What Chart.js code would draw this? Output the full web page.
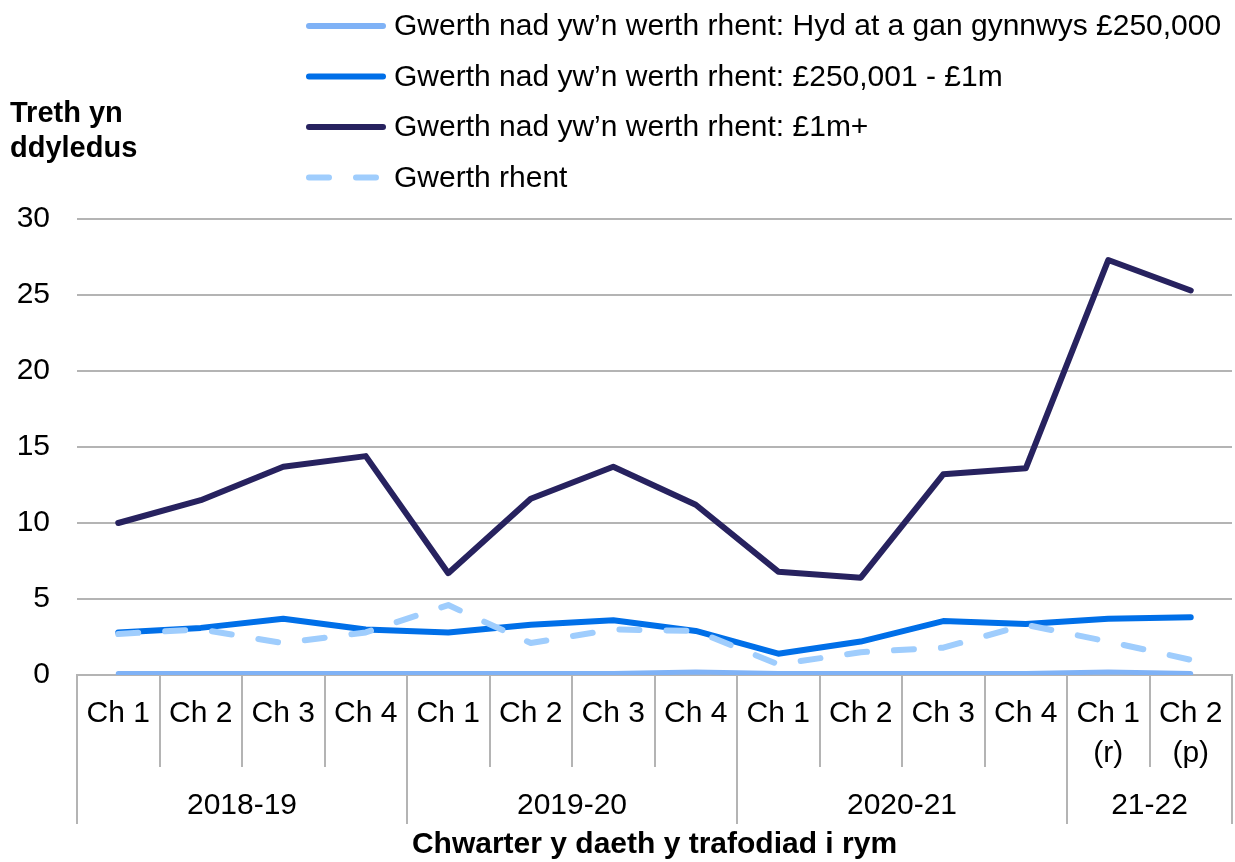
<!DOCTYPE html>
<html>
<head>
<meta charset="utf-8">
<script src="https://cdn.jsdelivr.net/npm/chart.js@4"></script>
<style>
  html, body { margin: 0; padding: 0; background: #fff; }
  #wrap { width: 1235px; height: 862px; }
</style>
</head>
<body>
<div id="wrap"><canvas id="chart" width="1235" height="862"></canvas></div>
<script>
// Data
const quarters = [["Ch 1"], ["Ch 2"], ["Ch 3"], ["Ch 4"], ["Ch 1"], ["Ch 2"], ["Ch 3"], ["Ch 4"],
                  ["Ch 1"], ["Ch 2"], ["Ch 3"], ["Ch 4"], ["Ch 1", "(r)"], ["Ch 2", "(p)"]];
const years = ["2018-19", "2019-20", "2020-21", "21-22"];
const yearSizes = [4, 4, 4, 2];

const upTo250k = [0.1, 0.1, 0.1, 0.1, 0.1, 0.1, 0.1, 0.2, 0.1, 0.1, 0.1, 0.1, 0.2, 0.1];
const from250kTo1m = [2.8, 3.1, 3.7, 3.0, 2.8, 3.3, 3.6, 2.9, 1.4, 2.2, 3.55, 3.35, 3.7, 3.8];
const over1m = [10.0, 11.5, 13.7, 14.4, 6.7, 11.6, 13.7, 11.2, 6.8, 6.4, 13.2, 13.6, 27.3, 25.3];
const rent = [2.7, 3.0, 2.1, 2.8, 4.6, 2.1, 3.0, 2.9, 0.7, 1.5, 1.8, 3.3, 2.2, 1.0];

const yTicks = [0, 5, 10, 15, 20, 25, 30];

const FONT = "'Liberation Sans', Arial, sans-serif";
const GRID = "#b4b4b4";

const series = [
  { label: "Gwerth nad yw\u2019n werth rhent: Hyd at a gan gynnwys \u00a3250,000", data: upTo250k, color: "#7fb2f6", dash: [], width: 5, order: 3 },
  { label: "Gwerth nad yw\u2019n werth rhent: \u00a3250,001 - \u00a31m", data: from250kTo1m, color: "#006fe8", dash: [], width: 6, order: 2 },
  { label: "Gwerth nad yw\u2019n werth rhent: \u00a31m+", data: over1m, color: "#27225f", dash: [], width: 6, order: 1 },
  { label: "Gwerth rhent", data: rent, color: "#9fcdfd", dash: [20, 27], width: 6, order: 0 }
];

// Legend, axis titles, year groups
const extras = {
  id: "extras",
  afterDraw(chart) {
    const ctx = chart.ctx;
    const x = chart.scales.x;
    const area = chart.chartArea;
    ctx.save();

    // legend
    series.forEach((s, i) => {
      const y = 26 + 50.5 * i;
      ctx.strokeStyle = s.color;
      ctx.lineWidth = 6;
      ctx.lineCap = "round";
      ctx.setLineDash(s.dash);
      ctx.beginPath();
      ctx.moveTo(309, y);
      ctx.lineTo(383, y);
      ctx.stroke();
      ctx.setLineDash([]);
      ctx.fillStyle = "#000";
      ctx.font = "30px " + FONT;
      ctx.textBaseline = "middle";
      ctx.textAlign = "left";
      ctx.fillText(s.label, 394, y + 1);
    });

    // y title
    ctx.font = "bold 29px " + FONT;
    ctx.fillText("Treth yn", 10, 114);
    ctx.fillText("ddyledus", 10, 149);

    // category separators and year groups
    ctx.strokeStyle = GRID;
    ctx.lineWidth = 2;
    ctx.lineCap = "butt";
    let idx = 0;
    const bounds = [0];
    yearSizes.forEach(n => { idx += n; bounds.push(idx); });
    for (let i = 0; i <= quarters.length; i++) {
      const px = Math.round(x.getPixelForValue(i - 0.5));
      const long = bounds.includes(i);
      ctx.beginPath();
      ctx.moveTo(px, area.bottom);
      ctx.lineTo(px, long ? 824 : 767);
      ctx.stroke();
    }
    ctx.font = "30px " + FONT;
    ctx.textAlign = "center";
    years.forEach((yr, g) => {
      const a = x.getPixelForValue(bounds[g] - 0.5);
      const b = x.getPixelForValue(bounds[g + 1] - 0.5);
      ctx.fillText(yr, (a + b) / 2, 806);
    });

    // x title
    ctx.font = "bold 30px " + FONT;
    ctx.fillText("Chwarter y daeth y trafodiad i rym", (area.left + area.right) / 2, 845);
    ctx.restore();
  }
};

new Chart(document.getElementById("chart"), {
  type: "line",
  data: {
    labels: quarters,
    datasets: series.map(s => ({
      label: s.label,
      data: s.data,
      borderColor: s.color,
      backgroundColor: s.color,
      borderWidth: s.width,
      borderDash: s.dash,
      borderCapStyle: "round",
      borderJoinStyle: "round",
      pointRadius: 0,
      tension: 0,
      order: s.order
    }))
  },
  options: {
    responsive: false,
    animation: false,
    layout: { padding: { top: 219, right: 3, left: 0, bottom: 0 } },
    plugins: { legend: { display: false }, tooltip: { enabled: false } },
    scales: {
      x: {
        offset: true,
        afterFit: s => { s.height = 187; s.paddingLeft = 0; s.paddingRight = 0; },
        grid: { display: false },
        border: { display: true, color: GRID, width: 2 },
        ticks: {
          color: "#000",
          padding: 11,
          maxRotation: 0,
          autoSkip: false,
          font: { family: FONT, size: 30, lineHeight: 1.333 }
        }
      },
      y: {
        min: 0,
        max: 30,
        afterFit: s => { s.width = 77; s.paddingTop = 0; s.paddingBottom = 0; },
        afterBuildTicks: s => { s.ticks = yTicks.map(v => ({ value: v })); },
        grid: { color: GRID, lineWidth: 2, drawTicks: false },
        border: { display: false },
        ticks: {
          color: "#000",
          padding: 27,
          font: { family: FONT, size: 30 }
        }
      }
    }
  },
  plugins: [extras]
});
</script>
</body>
</html>
